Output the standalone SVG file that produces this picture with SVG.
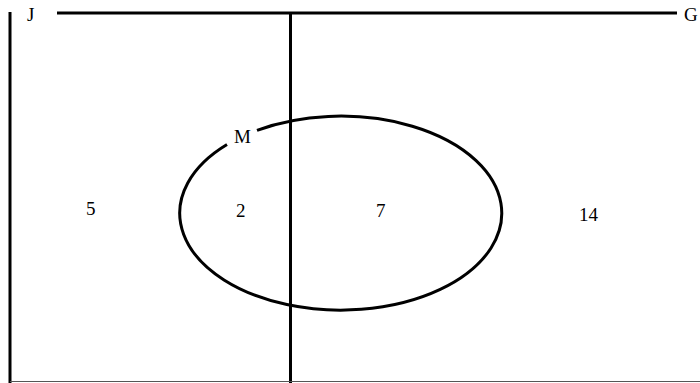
<svg xmlns="http://www.w3.org/2000/svg" width="700" height="383" viewBox="0 0 700 383">
<style>
.ln{stroke:#000;stroke-width:3;fill:none}
.t{font-family:"Liberation Serif","Times New Roman",serif;font-size:19px;fill:#000}
</style>
<rect width="700" height="383" fill="#fff"/>
<g id="connectors">
<line class="ln" x1="10" y1="12" x2="10" y2="383"/>
<line class="ln" x1="57" y1="13" x2="677" y2="13"/>
<line class="ln" x1="290.5" y1="12" x2="290.5" y2="383"/>
<line x1="10" y1="381.5" x2="700" y2="381.5" stroke="#555" stroke-width="1"/>
</g>
<g id="J"><text class="t" x="27" y="21">J</text></g>
<g id="G"><text class="t" x="684" y="21">G</text></g>
<g id="M">
<path class="ln" d="M 257 130.3 A 161 97 0 1 1 227 144.5"/>
<text class="t" x="234" y="143">M</text>
</g>
<g id="n5"><text class="t" x="86" y="215">5</text></g>
<g id="n2"><text class="t" x="236" y="217">2</text></g>
<g id="n7"><text class="t" x="376" y="217">7</text></g>
<g id="n14"><text class="t" x="579" y="221">14</text></g>
</svg>
